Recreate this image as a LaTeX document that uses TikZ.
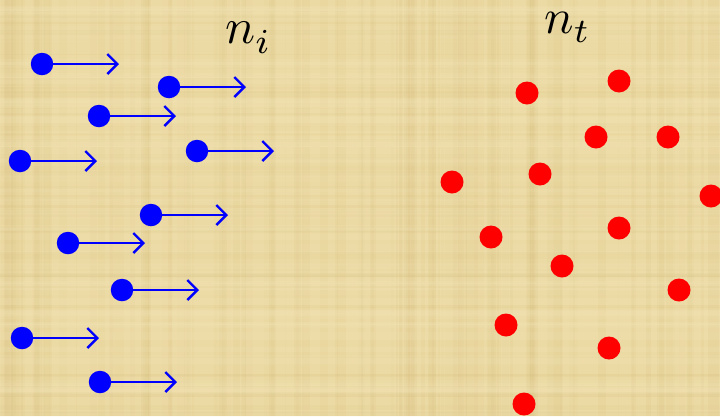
\documentclass[tikz,border=0pt]{standalone}
\usepackage{graphicx}
\usetikzlibrary{arrows.meta}
\definecolor{parch}{RGB}{236,218,164}
\definecolor{parchdark}{RGB}{205,180,110}
\definecolor{parchlight}{RGB}{248,236,194}
\definecolor{pblue}{RGB}{0,0,255}
\definecolor{pred}{RGB}{255,0,0}
\tikzset{
  bdot/.style={circle,fill=pblue,inner sep=0pt,minimum size=22.5pt},
  rdot/.style={circle,fill=pred,inner sep=0pt,minimum size=23pt},
  vel/.style={draw=pblue,line width=2.4pt,-{Straight Barb[length=10pt,width=20pt,line width=2.4pt]}},
  lbl/.style={inner sep=0pt,anchor=base west}
}
\newcommand{\lowsub}[1]{\raisebox{-0.5pt}{$\scriptstyle #1$}}
\begin{document}
\begin{tikzpicture}[x=1pt,y=-1pt]
\useasboundingbox (0,0) rectangle (720,416);
\fill[parch] (0,0) rectangle (720,416);
\pgfmathsetseed{11}
\foreach \i in {1,...,120}{
  \pgfmathsetmacro\xx{rnd*720}
  \pgfmathsetmacro\ww{1+rnd*10}
  \pgfmathsetmacro\oo{0.03+rnd*0.08}
  \fill[parchdark,opacity=\oo] (\xx,0) rectangle ++(\ww,416);
}
\foreach \i in {1,...,90}{
  \pgfmathsetmacro\yy{rnd*416}
  \pgfmathsetmacro\ww{1+rnd*8}
  \pgfmathsetmacro\oo{0.05+rnd*0.12}
  \fill[parchlight,opacity=\oo] (0,\yy) rectangle ++(720,\ww);
}
\foreach \i in {1,...,50}{
  \pgfmathsetmacro\yy{rnd*416}
  \pgfmathsetmacro\ww{1+rnd*4}
  \pgfmathsetmacro\oo{0.03+rnd*0.06}
  \fill[parchdark,opacity=\oo] (0,\yy) rectangle ++(720,\ww);
}
% labels
\node[lbl] (ni) at (225,43) {\scalebox{5}{$n_{\lowsub{i}}$}};
\node[lbl] (nt) at (544,33) {\scalebox{4.9}{$n_{\lowsub{t}}$}};
% blue particles with velocity arrows
\foreach \n/\x/\y in {b1/42/64, b2/169/87, b3/99/116, b4/20/161, b5/197/151,
                     b6/151/215, b7/68/243, b8/122/290, b9/22/338, b10/100/382}{
  \pgfmathsetmacro\xe{\x+77}
  \node[bdot] (\n) at (\x,\y) {};
  \coordinate (\n e) at (\xe,\y);
  \draw[vel] (\n.center) -- (\n e);
}
% red target particles
\foreach \n/\x/\y in {r1/527/93, r2/619/81, r3/596/137, r4/668/137, r5/452/182,
                     r6/540/174, r7/711/196, r8/491/237, r9/619/228, r10/562/266,
                     r11/679/290, r12/506/325, r13/609/348, r14/524/404}{
  \node[rdot] (\n) at (\x,\y) {};
}
\end{tikzpicture}
\end{document}
